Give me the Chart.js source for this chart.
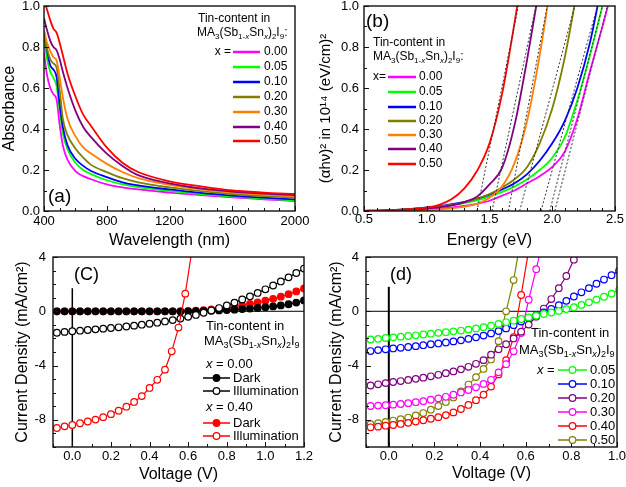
<!DOCTYPE html>
<html>
<head>
<meta charset="utf-8">
<script src="https://cdn.jsdelivr.net/npm/chart.js@4.4.1/dist/chart.umd.min.js"></script>
<style>
  html, body { margin: 0; padding: 0; background: #fff; }
  #wrap { position: relative; width: 626px; height: 487px; overflow: hidden; }
  canvas { position: absolute; }
</style>
</head>
<body>
<div id="wrap">
  <canvas id="chartA" width="313" height="252" style="left:0;top:0"></canvas>
  <canvas id="chartB" width="313" height="252" style="left:313px;top:0"></canvas>
  <canvas id="chartC" width="313" height="244" style="left:0;top:243px"></canvas>
  <canvas id="chartD" width="313" height="244" style="left:313px;top:243px"></canvas>
</div>
<script>
// ---- data ----
const tinContent = ['0.00', '0.05', '0.10', '0.20', '0.30', '0.40', '0.50'];
const tinColors = ['#ff00ff', '#00ff00', '#0000ff', '#808000', '#ff8000', '#800080', '#ff0000'];

// (a) absorbance spectra
const wavelength = [400, 420, 440, 460, 480, 500, 520, 550, 600, 650, 700, 800, 900, 1000, 1200, 1400, 1600, 1800, 2000];
const absX000 = [0.77, 0.66, 0.60, 0.57, 0.545, 0.42, 0.32, 0.25, 0.195, 0.17, 0.155, 0.13, 0.115, 0.105, 0.09, 0.077, 0.066, 0.057, 0.048];
const absX005 = [0.85, 0.74, 0.68, 0.65, 0.61, 0.49, 0.38, 0.30, 0.235, 0.20, 0.18, 0.15, 0.13, 0.117, 0.098, 0.082, 0.07, 0.06, 0.052];
const absX010 = [0.88, 0.78, 0.71, 0.69, 0.655, 0.52, 0.41, 0.32, 0.255, 0.22, 0.195, 0.165, 0.14, 0.125, 0.105, 0.088, 0.075, 0.065, 0.057];
const absX020 = [0.86, 0.79, 0.74, 0.72, 0.70, 0.59, 0.45, 0.37, 0.305, 0.26, 0.225, 0.19, 0.16, 0.14, 0.115, 0.097, 0.083, 0.073, 0.065];
const absX030 = [0.88, 0.82, 0.78, 0.75, 0.735, 0.65, 0.555, 0.45, 0.365, 0.31, 0.28, 0.23, 0.19, 0.16, 0.128, 0.105, 0.09, 0.08, 0.072];
const absX040 = [0.94, 0.88, 0.83, 0.80, 0.785, 0.74, 0.68, 0.60, 0.49, 0.41, 0.36, 0.28, 0.22, 0.175, 0.135, 0.11, 0.095, 0.085, 0.077];
const absX050 = [1.03, 0.98, 0.93, 0.89, 0.87, 0.82, 0.76, 0.67, 0.56, 0.47, 0.415, 0.31, 0.235, 0.19, 0.145, 0.12, 0.10, 0.09, 0.083];

// (b) Tauc plot
const energy = [0.5, 0.6, 0.7, 0.8, 0.9, 1.0, 1.1, 1.2, 1.3, 1.4, 1.5, 1.6, 1.7, 1.8, 1.9, 2.0, 2.1, 2.2, 2.3, 2.4, 2.5];
const taucX000 = [0, 0.001, 0.002, 0.003, 0.005, 0.008, 0.012, 0.018, 0.025, 0.035, 0.05, 0.075, 0.1, 0.135, 0.17, 0.215, 0.29, 0.45, 0.68, 0.9, 1.13];
const taucX005 = [0.001, 0.002, 0.003, 0.006, 0.01, 0.015, 0.021, 0.029, 0.039, 0.052, 0.07, 0.093, 0.12, 0.155, 0.2, 0.26, 0.36, 0.54, 0.76, 1.0, 1.25];
const taucX010 = [0.001, 0.002, 0.004, 0.007, 0.011, 0.017, 0.024, 0.033, 0.045, 0.06, 0.08, 0.105, 0.135, 0.18, 0.245, 0.33, 0.44, 0.6, 0.82, 1.12, null];
const taucX020 = [0.001, 0.002, 0.004, 0.007, 0.011, 0.016, 0.022, 0.03, 0.042, 0.06, 0.083, 0.115, 0.155, 0.215, 0.33, 0.5, 0.75, 1.08, null, null, null];
const taucX030 = [0, 0, 0.001, 0.002, 0.003, 0.005, 0.008, 0.013, 0.021, 0.035, 0.065, 0.12, 0.235, 0.44, 0.76, 1.15, null, null, null, null, null];
const taucX040 = [0, 0.001, 0.003, 0.005, 0.008, 0.012, 0.018, 0.027, 0.043, 0.07, 0.13, 0.21, 0.42, 0.74, 1.1, null, null, null, null, null, null];
const taucX050 = [0, 0.001, 0.003, 0.006, 0.01, 0.016, 0.03, 0.058, 0.11, 0.195, 0.33, 0.57, 0.92, 1.3, null, null, null, null, null, null, null];
// band-gap tangents (same order as tinContent): intercept and top end
const gapStart = [2.02, 1.98, 1.91, 1.74, 1.65, 1.52, 1.40];
const gapEnd = [2.44, 2.40, 2.36, 2.18, 1.96, 1.87, 1.73];

// (c) J-V, x = 0.00 and x = 0.40
const voltC = [-0.08, -0.04, 0, 0.04, 0.08, 0.12, 0.16, 0.2, 0.24, 0.28, 0.32, 0.36, 0.4, 0.44, 0.48, 0.52, 0.56, 0.6, 0.64, 0.68, 0.72, 0.76, 0.8, 0.84, 0.88, 0.92, 0.96, 1, 1.04, 1.08, 1.12, 1.16, 1.2];
const darkX000 = [0, 0, 0, 0, 0, 0, 0, 0, 0, 0, 0, 0, 0, 0, 0, 0, 0, 0, 0.01, 0.02, 0.04, 0.06, 0.09, 0.12, 0.16, 0.2, 0.25, 0.3, 0.36, 0.43, 0.52, 0.64, 0.8];
const illumX000 = [-1.58, -1.52, -1.47, -1.43, -1.38, -1.33, -1.28, -1.23, -1.18, -1.12, -1.06, -0.99, -0.92, -0.84, -0.75, -0.65, -0.54, -0.41, -0.27, -0.11, 0.06, 0.24, 0.43, 0.64, 0.87, 1.1, 1.35, 1.62, 1.9, 2.2, 2.5, 2.82, 3.15];
const darkX040 = [0, 0, 0, 0, 0, 0, 0, 0, 0, 0, 0, 0, 0, 0, 0, 0, 0, 0.02, 0.05, 0.09, 0.14, 0.2, 0.27, 0.35, 0.44, 0.54, 0.65, 0.78, 0.92, 1.08, 1.26, 1.46, 1.68];
const voltC040 = [-0.08, -0.04, 0, 0.04, 0.08, 0.12, 0.16, 0.2, 0.24, 0.28, 0.32, 0.36, 0.4, 0.44, 0.48, 0.515, 0.55, 0.585, 0.625];
const illumX040 = [-8.6, -8.48, -8.38, -8.25, -8.12, -7.98, -7.8, -7.58, -7.33, -7.03, -6.68, -6.25, -5.65, -5.05, -4.3, -2.95, -1.2, 1.3, 5];

// (d) J-V under illumination
const tinContentD = ['0.05', '0.10', '0.20', '0.30', '0.40', '0.50'];
const tinColorsD = ['#00ff00', '#0000ff', '#800080', '#ff00ff', '#ff0000', '#808000'];
const voltD = [-0.08, -0.047, -0.014, 0.019, 0.052, 0.085, 0.118, 0.151, 0.184, 0.217, 0.25, 0.283, 0.316, 0.349, 0.382, 0.415, 0.448, 0.481, 0.514, 0.547, 0.58, 0.613, 0.646, 0.679, 0.712, 0.745, 0.778, 0.811, 0.844, 0.877, 0.91, 0.943, 0.976, 1.009];
const jvX005 = [-2.08, -2.03, -1.97, -1.92, -1.87, -1.82, -1.77, -1.71, -1.65, -1.59, -1.54, -1.48, -1.42, -1.35, -1.26, -1.17, -1.06, -0.93, -0.81, -0.69, -0.57, -0.45, -0.32, -0.2, -0.09, 0.03, 0.16, 0.3, 0.47, 0.66, 0.86, 1.07, 1.3, 1.57];
const jvX010 = [-2.93, -2.86, -2.8, -2.74, -2.69, -2.63, -2.57, -2.5, -2.43, -2.37, -2.3, -2.22, -2.14, -2.03, -1.92, -1.79, -1.63, -1.46, -1.26, -1.02, -0.76, -0.5, -0.3, -0.08, 0.18, 0.45, 0.77, 1.09, 1.4, 1.71, 2.03, 2.34, 2.66, 2.98];
const jvX020 = [-5.47, -5.38, -5.29, -5.21, -5.14, -5.06, -4.98, -4.89, -4.79, -4.68, -4.56, -4.43, -4.28, -4.09, -3.87, -3.6, -3.2, -2.8, -2.43, -2.0, -1.5, -0.98, -0.4, 0.2, 0.9, 1.7, 2.6, 3.8, 5.2];
const jvX030 = [-6.98, -6.95, -6.92, -6.88, -6.83, -6.77, -6.7, -6.62, -6.52, -6.42, -6.3, -6.15, -5.98, -5.8, -5.6, -5.35, -5.05, -4.5, -3.9, -2.95, -1.6, 0.85, 3.1, 5.5];
const jvX040 = [-8.55, -8.5, -8.43, -8.38, -8.3, -8.22, -8.13, -8.03, -7.92, -7.8, -7.65, -7.45, -7.2, -6.9, -6.55, -6.15, -5.55, -4.65, -3.6, -1.9, 1.2, 4.5, 8];
const jvX050 = [-8.32, -8.25, -8.15, -8.05, -7.95, -7.83, -7.68, -7.5, -7.25, -6.98, -6.68, -6.35, -5.9, -5.4, -4.85, -4.25, -3.55, -2.2, 0.0, 2.3, 5.5];

// tick labels
const ticksWavelength = [400, 800, 1200, 1600, 2000];
const ticksAbs = [0, 0.2, 0.4, 0.6, 0.8, 1.0];
const ticksEnergy = [0.5, 1.0, 1.5, 2.0, 2.5];
const ticksTauc = [0, 0.2, 0.4, 0.6, 0.8, 1.0];
const ticksVoltC = [0, 0.2, 0.4, 0.6, 0.8, 1.0, 1.2];
const ticksVoltD = [0, 0.2, 0.4, 0.6, 0.8, 1.0];
const ticksCurrent = [-8, -4, 0, 4];

// ---- helpers ----
const FONT = "'Liberation Sans', Arial, Helvetica, sans-serif";
Chart.defaults.font.family = FONT;
Chart.defaults.color = '#000';

// MA3(Sb1-xSnx)2I9 as [text, subscript, italic]
const formula = [['MA'], ['3', 1], ['(Sb'], ['1-', 1], ['x', 1, 1], ['Sn'], ['x', 1, 1], [')'], ['2', 1], ['I'], ['9', 1]];

function pts(xs, ys) {
    return xs.map((x, i) => ({ x: x, y: ys[i] === undefined ? null : ys[i] }));
}

function curve(xs, ys, color) {
    return {
        data: pts(xs, ys), borderColor: color, borderWidth: 1.8,
        pointRadius: 0, cubicInterpolationMode: 'monotone', fill: false
    };
}

function jv(xs, ys, color, filled) {
    return {
        data: pts(xs, ys), borderColor: color, borderWidth: 1.2, tension: 0,
        pointRadius: 3.3, pointBorderWidth: 1.2, pointBorderColor: color,
        pointBackgroundColor: filled ? color : '#fff', fill: false
    };
}

function txt(ctx, s, x, y, size, opt) {
    opt = opt || {};
    ctx.font = (opt.italic ? 'italic ' : '') + size + 'px ' + FONT;
    ctx.textAlign = opt.align || 'left';
    ctx.textBaseline = 'middle';
    ctx.fillStyle = '#000';
    ctx.fillText(s, x, y);
    return ctx.measureText(s).width;
}

function rich(ctx, parts, x, y, size) {
    let cx = x;
    parts.forEach(p => {
        const fs = p[1] ? Math.round(size * 0.7) : size;
        cx += txt(ctx, p[0], cx, y + (p[1] ? size * 0.32 : 0), fs, { italic: p[2] });
    });
}

function sample(ctx, x1, x2, y, color, width, marker) {
    ctx.save();
    ctx.strokeStyle = color;
    ctx.lineWidth = width;
    ctx.beginPath();
    ctx.moveTo(x1, y);
    ctx.lineTo(x2, y);
    ctx.stroke();
    if (marker) {
        ctx.lineWidth = 1.2;
        ctx.fillStyle = marker === 'filled' ? color : '#fff';
        ctx.beginPath();
        ctx.arc((x1 + x2) / 2, y, 3.3, 0, Math.PI * 2);
        ctx.fill();
        ctx.stroke();
    }
    ctx.restore();
}

function steps(min, max, step) {
    const out = [];
    const n0 = Math.ceil(min / step - 1e-9), n1 = Math.floor(max / step + 1e-9);
    for (let n = n0; n <= n1; n++) out.push(+(n * step).toFixed(6));
    return out;
}

function axis(c, horizontal, size) {
    return {
        type: 'linear', min: c.min, max: c.max,
        afterBuildTicks: s => { s.ticks = c.ticks.map(v => ({ value: v })); },
        afterFit: s => {
            if (horizontal) { s.height = size; s.paddingLeft = 0; s.paddingRight = 0; }
            else { s.width = size; s.paddingTop = 0; s.paddingBottom = 0; }
        },
        grid: { display: false, drawTicks: false },
        border: { display: false },
        ticks: {
            autoSkip: false, maxRotation: 0, padding: c.pad, color: '#000',
            font: { size: 13 }, callback: v => v.toFixed(c.dec)
        },
        title: {
            display: true, text: c.title, color: '#000', font: { size: c.titleSize || 16 },
            padding: horizontal ? { top: 0, bottom: c.titlePad } : { top: c.titlePad, bottom: 0 }
        }
    };
}

function framePlugin(cfg) {
    return {
        id: 'frame',
        beforeDatasetsDraw(chart) {
            if (!cfg.zeroLines) return;
            const { ctx, chartArea: a, scales: { x, y } } = chart;
            ctx.save();
            ctx.strokeStyle = '#000';
            ctx.lineWidth = 1;
            ctx.beginPath();
            ctx.moveTo(a.left, y.getPixelForValue(0));
            ctx.lineTo(a.right, y.getPixelForValue(0));
            ctx.stroke();
            ctx.lineWidth = cfg.zeroLines.width;
            ctx.beginPath();
            ctx.moveTo(x.getPixelForValue(0), a.bottom);
            ctx.lineTo(x.getPixelForValue(0), y.getPixelForValue(cfg.zeroLines.top));
            ctx.stroke();
            ctx.restore();
        },
        afterDatasetsDraw(chart) {
            const { ctx, chartArea: a, scales: { x, y } } = chart;
            ctx.save();
            ctx.strokeStyle = '#111';
            ctx.lineWidth = 1;
            ctx.beginPath();
            const isMajor = (list, v) => list.some(t => Math.abs(t - v) < 1e-6);
            steps(cfg.x.min, cfg.x.max, cfg.x.minor).forEach(v => {
                const p = Math.round(x.getPixelForValue(v)) + 0.5;
                const len = isMajor(cfg.x.ticks, v) ? 5 : 3;
                ctx.moveTo(p, a.bottom);
                ctx.lineTo(p, a.bottom - len);
            });
            steps(cfg.y.min, cfg.y.max, cfg.y.minor).forEach(v => {
                const p = Math.round(y.getPixelForValue(v)) + 0.5;
                const len = isMajor(cfg.y.ticks, v) ? 5 : 3;
                ctx.moveTo(a.left, p);
                ctx.lineTo(a.left + len, p);
            });
            ctx.stroke();
            ctx.lineWidth = 1.4;
            ctx.strokeRect(a.left, a.top, a.right - a.left, a.bottom - a.top);
            ctx.restore();
            if (cfg.notes) cfg.notes(ctx);
        }
    };
}

function buildChart(id, cfg) {
    const canvas = document.getElementById(id);
    const W = canvas.width, H = canvas.height, a = cfg.area;
    return new Chart(canvas, {
        type: 'line',
        data: { datasets: cfg.datasets },
        options: {
            responsive: false, devicePixelRatio: 1, animation: false,
            layout: { padding: { left: 0, top: a.top, right: W - a.right, bottom: 0 } },
            plugins: { legend: { display: false }, tooltip: { enabled: false } },
            scales: { x: axis(cfg.x, true, H - a.bottom), y: axis(cfg.y, false, a.left) }
        },
        plugins: [framePlugin(cfg)]
    });
}

// ---- (a) ----
const absSeries = [absX000, absX005, absX010, absX020, absX030, absX040, absX050];
buildChart('chartA', {
    area: { left: 44, top: 6, right: 295, bottom: 211 },
    x: { min: 400, max: 2000, ticks: ticksWavelength, minor: 100, dec: 0, pad: 3, title: 'Wavelength (nm)', titlePad: 2 },
    y: { min: 0, max: 1, ticks: ticksAbs, minor: 0.1, dec: 1, pad: 4, title: 'Absorbance', titlePad: 0 },
    datasets: absSeries.map((s, i) => curve(wavelength, s, tinColors[i])).reverse(),
    notes: ctx => {
        txt(ctx, '(a)', 48, 197, 19);
        txt(ctx, 'Tin-content in', 198, 19, 12);
        rich(ctx, formula.concat([[':']]), 197, 33, 12);
        const rows = [52, 67, 82, 97, 112, 127, 141];
        txt(ctx, 'x =', 231, rows[0], 12, { align: 'right' });
        tinContent.forEach((t, i) => {
            sample(ctx, 233, 260, rows[i], tinColors[i], 2.5);
            txt(ctx, t, 264, rows[i], 12);
        });
    }
});

// ---- (b) ----
const taucSeries = [taucX000, taucX005, taucX010, taucX020, taucX030, taucX040, taucX050];
const tangents = gapStart.map((e, i) => ({
    data: [{ x: e, y: 0 }, { x: gapEnd[i], y: 1 }],
    borderColor: '#333', borderWidth: 1, borderDash: [2, 2], pointRadius: 0, fill: false
}));
buildChart('chartB', {
    area: { left: 51, top: 6, right: 302, bottom: 211 },
    x: { min: 0.5, max: 2.5, ticks: ticksEnergy, minor: 0.1, dec: 1, pad: 1, title: 'Energy (eV)', titlePad: 2 },
    y: { min: 0, max: 1, ticks: ticksTauc, minor: 0.1, dec: 1, pad: 5, title: '(\u03b1h\u03bd)\u00b2 in 10\u00b9\u2074 (eV/cm)\u00b2', titleSize: 15, titlePad: 4 },
    datasets: tangents.concat(taucSeries.map((s, i) => curve(energy, s, tinColors[i])).reverse()),
    notes: ctx => {
        txt(ctx, '(b)', 53, 22, 19);
        txt(ctx, 'Tin-content in', 60, 43, 12);
        rich(ctx, formula.concat([[':']]), 60, 57, 12);
        const rows = [77, 92, 107, 121, 135, 149, 164];
        txt(ctx, 'x=', 60, rows[0], 12);
        tinContent.forEach((t, i) => {
            sample(ctx, 75, 103, rows[i], tinColors[i], 2.5);
            txt(ctx, t, 106, rows[i], 12);
        });
    }
});

// ---- (c) ----
buildChart('chartC', {
    area: { left: 53, top: 14, right: 304, bottom: 204 },
    x: { min: -0.1, max: 1.2, ticks: ticksVoltC, minor: 0.1, dec: 1, pad: 2, title: 'Voltage (V)', titlePad: 3 },
    y: { min: -10, max: 4, ticks: ticksCurrent, minor: 1, dec: 0, pad: 7, title: 'Current Density (mA/cm\u00b2)', titlePad: 13 },
    zeroLines: { top: 1.7, width: 1.5 },
    datasets: [
        jv(voltC040, illumX040, '#ff0000', false),
        jv(voltC, illumX000, '#000000', false),
        jv(voltC, darkX000, '#000000', true),
        jv(voltC, darkX040, '#ff0000', true)
    ],
    notes: ctx => {
        txt(ctx, '(C)', 74, 32, 18);
        txt(ctx, 'Tin-content in', 206, 83, 13);
        rich(ctx, formula, 204, 98, 13);
        let w = txt(ctx, 'x', 206, 121, 13, { italic: true });
        txt(ctx, ' = 0.00', 206 + w, 121, 13);
        sample(ctx, 203, 230, 135, '#000', 1.5, 'filled');
        txt(ctx, 'Dark', 233, 135, 13);
        sample(ctx, 203, 230, 148, '#000', 1.5, 'open');
        txt(ctx, 'Illumination', 233, 148, 13);
        w = txt(ctx, 'x', 206, 164, 13, { italic: true });
        txt(ctx, ' = 0.40', 206 + w, 164, 13);
        sample(ctx, 203, 230, 180, '#ff0000', 1.5, 'filled');
        txt(ctx, 'Dark', 233, 180, 13);
        sample(ctx, 203, 230, 193, '#ff0000', 1.5, 'open');
        txt(ctx, 'Illumination', 233, 193, 13);
    }
});

// ---- (d) ----
const jvSeries = [jvX005, jvX010, jvX020, jvX030, jvX040, jvX050];
buildChart('chartD', {
    area: { left: 53, top: 14, right: 304, bottom: 204 },
    x: { min: -0.1, max: 1.0, ticks: ticksVoltD, minor: 0.1, dec: 1, pad: 2, title: 'Voltage (V)', titlePad: 4 },
    y: { min: -10, max: 4, ticks: ticksCurrent, minor: 1, dec: 0, pad: 7, title: 'Current Density (mA/cm\u00b2)', titlePad: 14 },
    zeroLines: { top: 1.8, width: 2 },
    datasets: jvSeries.map((s, i) => jv(voltD, s, tinColorsD[i], false)),
    notes: ctx => {
        txt(ctx, '(d)', 77, 32, 18);
        txt(ctx, 'Tin-content in', 218, 90, 13);
        rich(ctx, formula, 206, 107, 13);
        const rows = [127, 141, 155, 169, 183, 197];
        const w = txt(ctx, 'x', 224, rows[0], 13, { italic: true });
        txt(ctx, ' =', 224 + w, rows[0], 13);
        tinContentD.forEach((t, i) => {
            sample(ctx, 245, 274, rows[i], tinColorsD[i], 1.5, 'open');
            txt(ctx, t, 277, rows[i], 13);
        });
    }
});
</script>
</body>
</html>
